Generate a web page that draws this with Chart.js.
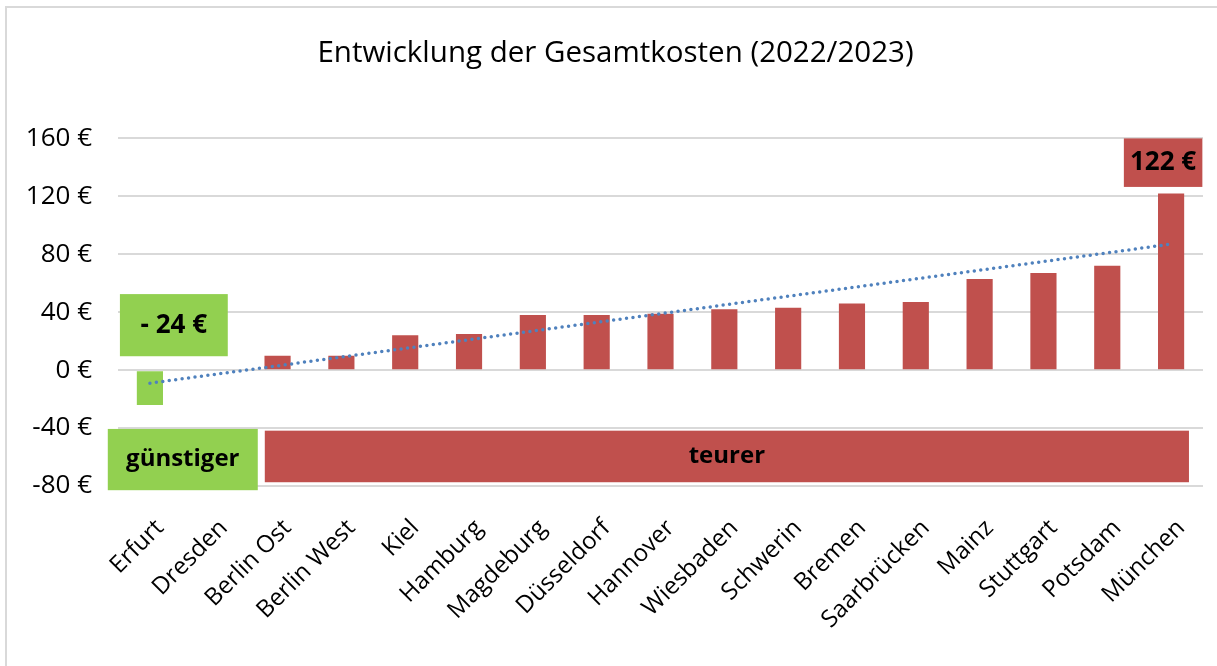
<!DOCTYPE html>
<html>
<head>
<meta charset="utf-8">
<script src="https://cdn.jsdelivr.net/npm/chart.js@4.4.0/dist/chart.umd.min.js"></script>
<style>
  html, body { margin: 0; padding: 0; background: #fff; }
  #wrap { width: 1217px; height: 666px; }
</style>
</head>
<body>
<div id="wrap"><canvas id="myChart" width="1217" height="666"></canvas></div>
<script>
// categories and values (Euro change 2022 -> 2023)
const cities = ['Erfurt', 'Dresden', 'Berlin Ost', 'Berlin West', 'Kiel', 'Hamburg', 'Magdeburg',
  'Düsseldorf', 'Hannover', 'Wiesbaden', 'Schwerin', 'Bremen', 'Saarbrücken', 'Mainz',
  'Stuttgart', 'Potsdam', 'München'];
const changes = [-24, 0, 10, 10, 24, 25, 38, 38, 39, 42, 43, 46, 47, 63, 67, 72, 122];

// trend line end points
const trendCities = ['Erfurt', 'München'];
const trendValues = [-9, 87];

// y axis ticks
const yTicks = [-80, -40, 0, 40, 80, 120, 160];

// texts of the callout boxes
const boxTexts = ['- 24 €', '122 €', 'günstiger', 'teurer'];

const green = '#92D050';
const red = '#C0504D';

// callout boxes, placed in axis units (category index / euro)
const boxes = [
  { text: boxTexts[0], x0: -0.47, x1: 1.22, y0: 52.5, y1: 9.6, color: green, size: 26 },
  { text: boxTexts[1], x0: 15.26, x1: 16.49, y0: 160, y1: 126.5, color: red, size: 26 },
  { text: boxTexts[2], x0: -0.66, x1: 1.69, y0: -40.6, y1: -82.9, color: green, size: 24 },
  { text: boxTexts[3], x0: 1.80, x1: 16.28, y0: -41.8, y1: -77.4, color: red, size: 24 }
];

const boxPlugin = {
  id: 'boxes',
  beforeDraw(chart) {
    let c = chart.ctx;
    c.save();
    c.fillStyle = '#fff';
    c.fillRect(0, 0, chart.width, chart.height);
    // frame of the original picture
    c.strokeStyle = '#d9d9d9';
    c.lineWidth = 2;
    c.beginPath();
    c.moveTo(6, chart.height);
    c.lineTo(6, 7);
    c.lineTo(chart.width, 7);
    c.stroke();
    c.restore();
  },
  afterDatasetsDraw(chart) {
    let c = chart.ctx;
    let xs = chart.scales.x, ys = chart.scales.y;
    c.save();
    boxes.forEach(b => {
      let l = xs.getPixelForValue(b.x0), r = xs.getPixelForValue(b.x1);
      let t = ys.getPixelForValue(b.y0), btm = ys.getPixelForValue(b.y1);
      c.fillStyle = b.color;
      c.fillRect(l, t, r - l, btm - t);
      c.fillStyle = '#000';
      c.font = 'bold ' + b.size + 'px "Open Sans"';
      c.textAlign = 'center';
      c.textBaseline = 'middle';
      c.fillText(b.text, (l + r) / 2, (t + btm) / 2);
    });
    c.restore();
  }
};

let ctx = document.getElementById('myChart').getContext('2d');

let myChart = new Chart(ctx, {
  type: 'bar',
  data: {
    labels: cities,
    datasets: [{
      label: 'Veränderung',
      data: changes,
      backgroundColor: changes.map(v => v < 0 ? green : red),
      barPercentage: 0.41,
      categoryPercentage: 1,
      order: 2
    }, {
      type: 'line',
      label: 'Trend',
      data: trendCities.map((c, i) => ({ x: c, y: trendValues[i] })),
      borderColor: '#4F81BD',
      borderWidth: 3.5,
      borderDash: [0, 6.5],
      borderCapStyle: 'round',
      pointRadius: 0,
      fill: false,
      order: 1
    }]
  },
  options: {
    responsive: false,
    animation: false,
    layout: { padding: { left: 28, right: 14, top: 0, bottom: 0 } },
    plugins: {
      legend: { display: false },
      tooltip: { enabled: false },
      title: {
        display: true,
        text: 'Entwicklung der Gesamtkosten (2022/2023)',
        color: '#000',
        font: { family: 'Open Sans', size: 29.5, weight: 'normal' },
        padding: { top: 36, bottom: 67 }
      }
    },
    scales: {
      x: {
        grid: { display: false },
        border: { display: false },
        ticks: {
          color: '#000',
          font: { family: 'Open Sans', size: 24 },
          minRotation: 45,
          maxRotation: 45,
          padding: 20,
          labelOffset: 10
        },
        afterFit(scale) { scale.height = 180; }
      },
      y: {
        min: yTicks[0],
        max: yTicks[yTicks.length - 1],
        afterBuildTicks(scale) { scale.ticks = yTicks.map(v => ({ value: v })); },
        grid: { color: '#d9d9d9', lineWidth: 2, drawTicks: false },
        border: { display: false },
        ticks: {
          color: '#000',
          font: { family: 'Open Sans', size: 26 },
          padding: 26,
          callback: v => v + ' €'
        },
        afterFit(scale) { scale.width = 90; }
      }
    }
  },
  plugins: [boxPlugin]
});
</script>
</body>
</html>
